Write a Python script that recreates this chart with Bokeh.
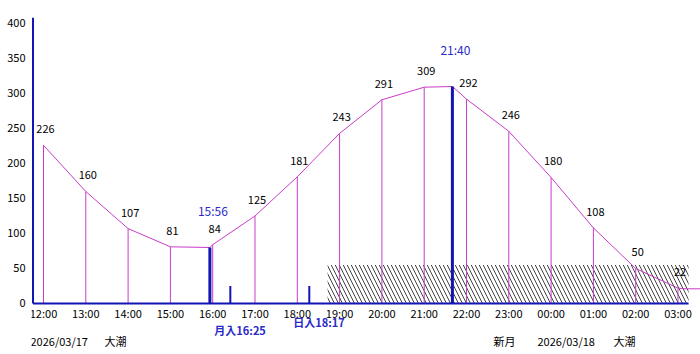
from bokeh.plotting import figure
from bokeh.models import Range1d, ColumnDataSource, FixedTicker, LinearAxis
from bokeh.core.properties import value
from bokeh.embed import file_html
from bokeh.resources import INLINE

# ---- data ----
hour_labels = ["12:00", "13:00", "14:00", "15:00", "16:00", "17:00", "18:00", "19:00",
               "20:00", "21:00", "22:00", "23:00", "00:00", "01:00", "02:00", "03:00"]
tide_heights = [226, 160, 107, 81, 84, 125, 181, 243, 291, 309, 292, 246, 180, 108, 50, 22]
extreme_times = ["15:56", "21:40"]
extreme_heights = [80, 310]
tail_times = ["03:10", "04:00"]
tail_heights = [21, 21]
event_names = ["月入", "日入"]
event_times = ["16:25", "18:17"]
event_marks = [25, 25]
night_start = "18:43"
night_end = "03:15"
night_level = 55
y_ticks = [0, 50, 100, 150, 200, 250, 300, 350, 400]
date_left = "2026/03/17"
tide_left = "大潮"
moon_phase = "新月"
date_right = "2026/03/18"
tide_right = "大潮"


def t2h(s):
    hh, mm = map(int, s.split(":"))
    return (hh - 12) % 24 + mm / 60.0


FONT = "Noto Sans CJK JP"
MAG = "#c83cc8"
BLUE = "#1414b4"
TBLUE = "#2a2ac8"

hx = [t2h(s) for s in hour_labels]
ex = [t2h(s) for s in extreme_times]
evx = [t2h(s) for s in event_times]

p = figure(width=700, height=354,
           x_range=Range1d(-0.2837, 15.532), y_range=Range1d(-72.86, 408.57),
           output_backend="svg", toolbar_location=None,
           x_axis_type=None, y_axis_type=None,
           min_border_left=31, min_border_right=0, min_border_top=17, min_border_bottom=0,
           outline_line_color=None, background_fill_color="white", border_fill_color="white")

# y axis (labels only; line drawn below)
yaxis = LinearAxis(ticker=FixedTicker(ticks=y_ticks), axis_line_color=None,
                   major_tick_line_color=None, minor_tick_line_color=None,
                   major_tick_out=0, major_tick_in=0, minor_tick_out=0, minor_tick_in=0,
                   major_label_standoff=6, major_label_text_font_size="11px",
                   major_label_text_font=FONT, major_label_text_color="black")
p.add_layout(yaxis, "left")

# night hatch
p.quad(left=[t2h(night_start)], right=[t2h(night_end)], bottom=[0], top=[night_level],
       fill_alpha=0, line_alpha=0, hatch_pattern="\\", hatch_color="#444444",
       hatch_scale=8, hatch_weight=1)

# hourly vertical lines
p.segment(x0=hx, y0=[0] * len(hx), x1=hx, y1=tide_heights, line_color=MAG, line_width=1)

# tide curve
pts = sorted(list(zip(hx, tide_heights)) + list(zip(ex, extreme_heights)) +
             [(t2h(t) + (24 if t2h(t) < 1 else 0), h) for t, h in zip(tail_times, tail_heights)])
p.line([a for a, b in pts], [b for a, b in pts], line_color=MAG, line_width=1)

# extreme bars
p.segment(x0=ex, y0=[0, 0], x1=ex, y1=extreme_heights, line_color=BLUE, line_width=3)
# sun / moon event marks
p.segment(x0=evx, y0=[0, 0], x1=evx, y1=event_marks, line_color=BLUE, line_width=2)

# axis lines
ax_left = -0.248
p.segment(x0=[ax_left], y0=[0], x1=[t2h(night_end)], y1=[0], line_color=BLUE, line_width=2)
p.segment(x0=[ax_left], y0=[0], x1=[ax_left], y1=[408.6], line_color=BLUE, line_width=2)

# x tick labels
p.text(x=hx, y=[0] * len(hx), text=hour_labels, y_offset=10,
       text_align="center", text_baseline="middle", text_font=value(FONT),
       text_font_size="11px", text_color="black")

# value labels
p.text(x=hx, y=tide_heights, text=[str(v) for v in tide_heights], x_offset=2, y_offset=-16,
       text_align="center", text_baseline="middle", text_font=value(FONT),
       text_font_size="11px", text_color="black")
# extreme time labels
p.text(x=ex, y=extreme_heights, text=extreme_times, x_offset=3, y_offset=-37,
       text_align="center", text_baseline="middle", text_font=value(FONT),
       text_font_size="12px", text_color=TBLUE)

# event labels under axis
ev_src = ColumnDataSource(dict(x=evx, y=[0, 0],
                               t=[n + t for n, t in zip(event_names, event_times)],
                               yo=[27, 19]))
p.text(x="x", y="y", text="t", source=ev_src, x_offset=-16, y_offset="yo",
       text_align="left", text_baseline="middle", text_font=value(FONT),
       text_font_size="11px", text_font_style="bold", text_color=TBLUE)

# bottom annotations (date / tide / moon phase)
bt_src = ColumnDataSource(dict(
    x=[t2h("12:00")] * 5, y=[0] * 5,
    t=[date_left, tide_left, moon_phase, date_right, tide_right],
    xo=[-13, 61, 450, 494, 570]))
p.text(x="x", y="y", text="t", source=bt_src, x_offset="xo", y_offset=38,
       text_align="left", text_baseline="middle", text_font=value(FONT),
       text_font_size="11px", text_color="black")

open("out.html", "w").write(file_html(p, INLINE))
